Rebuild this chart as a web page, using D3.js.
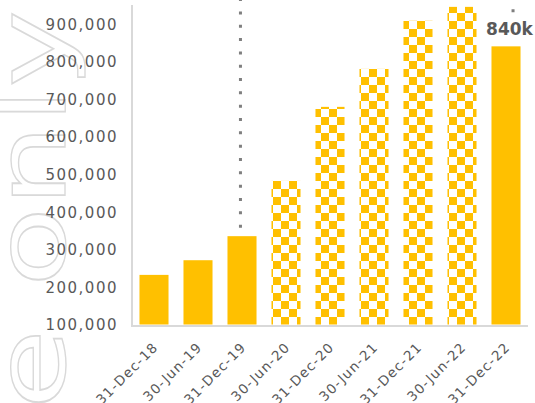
<!DOCTYPE html>
<html>
<head>
<meta charset="utf-8">
<script src="https://cdn.jsdelivr.net/npm/d3@7"></script>
<style>
  html, body { margin: 0; padding: 0; background: #ffffff; }
  svg { display: block; }
</style>
</head>
<body>
<svg id="chart" width="535" height="403"></svg>
<script>
// ---- data ----
const categories = ["31-Dec-18","30-Jun-19","31-Dec-19","30-Jun-20","31-Dec-20","30-Jun-21","31-Dec-21","30-Jun-22","31-Dec-22"];
const values = [232000, 271000, 335000, 482000, 679000, 780000, 908000, 945000, 840000];
const barKinds = ["solid","solid","solid","pattern","pattern","pattern","pattern","pattern","solid"];
const yTicks = [100000, 200000, 300000, 400000, 500000, 600000, 700000, 800000, 900000];
const barLabels = [{cat: "31-Dec-22", text: "840k"}];
const markerLines = [{cat: "31-Dec-19", shift: -0.035}, {cat: "31-Dec-22", shift: 0.16}];
const watermarkWords = ["use", "only"];

// ---- layout ----
const svg = d3.select("#chart");
const plot = {left: 132, right: 528, top: 5, bottom: 324.5};
const gold = "#FFC000";
const textGray = "#595959";

const x = d3.scaleBand().domain(categories).range([plot.left, plot.right])
  .paddingInner(0.34).paddingOuter(0.17);
const y = d3.scaleLinear().domain([100000, 950000]).range([plot.bottom, plot.top]);

// checker pattern
const defs = svg.append("defs");
const pat = defs.append("pattern").attr("id", "checker")
  .attr("patternUnits", "userSpaceOnUse")
  .attr("x", 1).attr("y", 5).attr("width", 16).attr("height", 16);
pat.append("rect").attr("x", 0).attr("y", 0).attr("width", 8).attr("height", 8).attr("fill", gold);
pat.append("rect").attr("x", 8).attr("y", 8).attr("width", 8).attr("height", 8).attr("fill", gold);

// watermark
const wm = svg.append("g").attr("class", "watermark");
const wmStyle = sel => sel
  .attr("font-family", "DejaVu Sans")
  .attr("font-size", 97)
  .attr("fill", "none")
  .attr("stroke", "#d9d9d9")
  .attr("stroke-width", 1.6)
  .attr("vector-effect", "non-scaling-stroke");
wm.append("text").text(watermarkWords[1])
  .attr("transform", "translate(65,287) rotate(-90) scale(1.35,1)")
  .attr("text-anchor", "start").call(wmStyle);
wm.append("text").text(watermarkWords[0])
  .attr("transform", "translate(65,329) rotate(-90) scale(1.35,1)")
  .attr("text-anchor", "end").call(wmStyle);

// y axis labels
const yAxis = d3.axisLeft(y).tickValues(yTicks).tickSize(0).tickPadding(14)
  .tickFormat(d3.format(","));
const yg = svg.append("g").attr("transform", `translate(${plot.left},0)`).call(yAxis);
yg.select(".domain").remove();
yg.selectAll("text").attr("font-family", "DejaVu Sans").attr("font-size", 15)
  .attr("letter-spacing", 1.5)
  .attr("fill", textGray).attr("dy", "0.36em");

// axis lines
svg.append("line").attr("x1", plot.left).attr("x2", plot.left)
  .attr("y1", plot.top).attr("y2", plot.bottom + 1.5)
  .attr("stroke", "#d9d9d9").attr("stroke-width", 2);
svg.append("line").attr("x1", plot.left - 1).attr("x2", plot.right)
  .attr("y1", plot.bottom + 1.5).attr("y2", plot.bottom + 1.5)
  .attr("stroke", "#d9d9d9").attr("stroke-width", 2);

// bars
svg.append("g").selectAll("rect").data(categories).join("rect")
  .attr("x", d => x(d))
  .attr("width", x.bandwidth())
  .attr("y", (d, i) => y(values[i]))
  .attr("height", (d, i) => y(100000) - y(values[i]))
  .attr("fill", (d, i) => barKinds[i] === "solid" ? gold : "url(#checker)");

// value labels
const labelG = svg.append("g");
barLabels.forEach(l => {
  const i = categories.indexOf(l.cat);
  labelG.append("text").text(l.text)
    .attr("x", x(l.cat) + x.bandwidth() / 2 + 3.5)
    .attr("y", y(values[i]) - 11)
    .attr("text-anchor", "middle")
    .attr("font-family", "DejaVu Sans").attr("font-weight", "bold")
    .attr("font-size", 17).attr("fill", textGray);
});

// dotted marker lines
markerLines.forEach(m => {
  const i = categories.indexOf(m.cat);
  const cx = x(m.cat) + x.bandwidth() / 2 + m.shift * x.step();
  const hasLabel = barLabels.some(l => l.cat === m.cat);
  const bottom = hasLabel ? y(values[i]) - 11 - 13 - 10 : y(values[i]) - 8.5;
  svg.append("line")
    .attr("x1", cx).attr("x2", cx)
    .attr("y1", bottom).attr("y2", -5)
    .attr("stroke", "#7f7f7f").attr("stroke-width", 3)
    .attr("stroke-dasharray", "3 10.33");
});

// x axis labels
const xg = svg.append("g");
categories.forEach(c => {
  xg.append("text").text(c)
    .attr("transform", `translate(${x(c) + x.bandwidth() / 2 + 5},348) rotate(-45)`)
    .attr("text-anchor", "end")
    .attr("font-family", "DejaVu Sans").attr("font-size", 13.5)
    .attr("letter-spacing", 1.2)
    .attr("fill", textGray);
});
</script>
</body>
</html>
